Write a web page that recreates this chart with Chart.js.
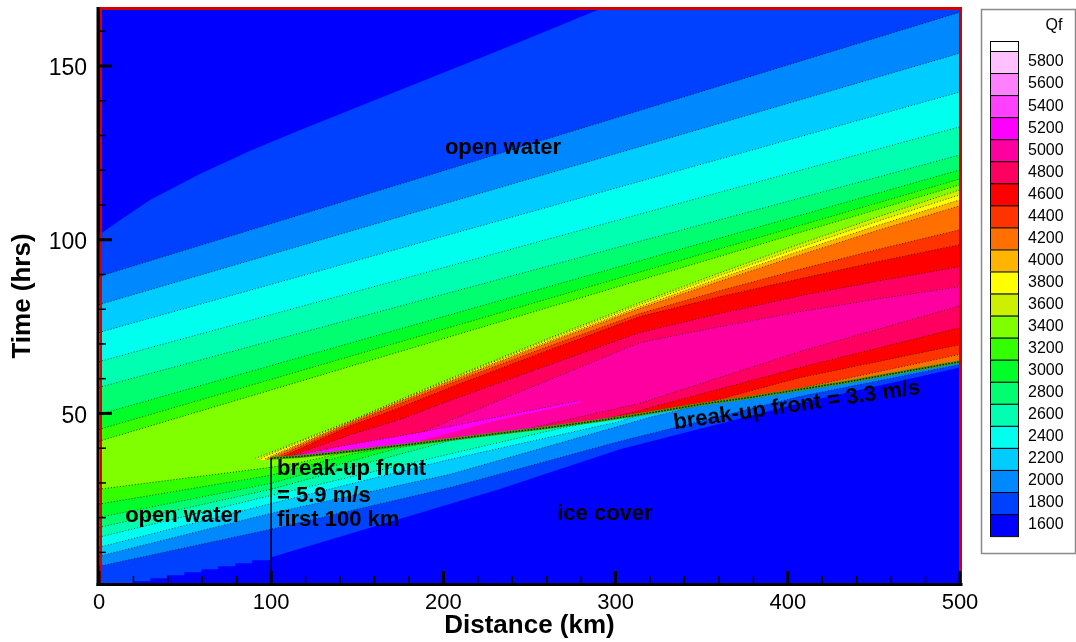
<!DOCTYPE html>
<html>
<head>
<meta charset="utf-8">
<title>Qf contour</title>
<script src="https://cdn.jsdelivr.net/npm/chart.js@4.4.1/dist/chart.umd.min.js"></script>
<style>
html,body{margin:0;padding:0;background:#ffffff;overflow:hidden;}
canvas{display:block;}
</style>
</head>
<body>
<canvas id="chart" width="1076" height="642"></canvas>
<script>
// ---------------- axes ----------------
const xRange = [0, 500];
const yRange = [1.2, 166.4];
const xTickValues = [0, 100, 200, 300, 400, 500];
const yTickValues = [50, 100, 150];
const xMinorTicks = [20,40,60,80,120,140,160,180,220,240,260,280,320,340,360,380,420,440,460,480];
const yMinorTicks = [10,20,30,40,60,70,80,90,110,120,130,140,160];

// ---------------- legend levels (Qf) ----------------
const legendLevels = [5800,5600,5400,5200,5000,4800,4600,4400,4200,4000,3800,3600,3400,3200,3000,2800,2600,2400,2200,2000,1800,1600];

// ---------------- contour lines: [distance km, time hrs] ----------------
// open water, upstream family (value of the band below each line)
const upper1800 = [[0,101.4],[12.4,105.7],[29.8,111.5],[58.8,119.0],[87.8,125.6],[116.8,131.6],[174.8,143.1],[232.9,154.6],[290.9,166.4],[320,172],[500,172]];
const upper2000 = [[0,89.4],[500,165.5]];
const upper2200 = [[0,81.3],[500,153.7]];
const upper2400 = [[0,73.3],[500,142.5]];
const upper2600 = [[0,64.9],[500,132.5]];
const upper2800 = [[0,57.5],[500,124.4]];
const upper3000 = [[0,49.7],[500,120.1]];
const upper3200 = [[0,45.4],[500,117.5]];
const upper3400 = [[0,42.0],[500,115.8]];
// ridge behind the break-up front
const ridge3600 = [[90.7,37.07],[95.9,38.07],[145.8,47.84],[174.8,54.02],[203.9,60.09],[261.9,71.81],[314.1,81.90],[360.6,90.52],[407,98.79],[453.4,106.75],[500,114.37]];
const ridge3800 = [[94.2,37.07],[97.7,37.93],[145.8,47.70],[174.8,53.79],[203.9,59.80],[261.9,71.38],[314.1,81.32],[360.6,89.73],[407,97.79],[453.4,105.53],[500,112.93]];
const ridge4000 = [[96.5,36.93],[99.4,37.64],[145.8,47.56],[174.8,53.59],[203.9,59.51],[261.9,70.95],[314.1,80.75],[360.6,88.94],[407,96.78],[453.4,104.31],[500,111.49]];
const ridge4200 = [[97.7,36.78],[101.1,37.64],[145.8,47.41],[174.8,53.39],[203.9,59.22],[261.9,70.52],[314.1,80.17],[360.6,88.07],[407,95.63],[453.4,102.87],[500,109.77]];
const ridge4400 = [[99.4,36.78],[103.5,37.5],[145.8,46.98],[174.8,52.87],[203.9,58.65],[261.9,69.51],[314.1,78.74],[360.6,85.34],[407,91.47],[453.4,97.34],[500,102.87]];
const ridge4600 = [[101.1,36.78],[105.8,37.36],[145.8,46.41],[174.8,51.72],[203.9,57.50],[261.9,68.36],[314.1,77.87],[360.6,83.62],[407,88.74],[453.4,93.82],[500,98.56]];
const ridge4800 = [[103.5,36.78],[108.7,37.36],[145.8,43.82],[174.8,48.28],[203.9,53.76],[261.9,64.05],[314.1,73.28],[360.6,78.74],[407,83.85],[453.4,88.22],[500,92.24]];
const ridge5000 = [[177.7,42.53],[203.9,47.99],[261.9,59.77],[314.1,70.40],[360.6,75.0],[407,79.31],[453.4,83.05],[500,86.49]];
const sliver5200 = [[108.1,37.36],[145.8,41.09],[186.4,44.54],[232.9,49.14],[279.3,53.74]];
const sliver5000 = [[186.4,42.24],[232.9,48.28],[279.3,53.16]];
// decreasing values towards the break-up front
const wedge4800 = [[244.5,45.1],[314.1,52.9],[406.9,67.8],[500,81.0]];
const wedge4600 = [[290.9,48.0],[314.1,50.9],[406.9,63.2],[500,74.7]];
const wedge4400 = [[348.9,52.6],[406.9,60.3],[500,69.8]];
const wedge4200 = [[401.1,56.6],[500,67.0]];
// break-up front (3.3 m/s)
const frontLine = [[100,37.1],[116.8,37.6],[145.8,39.1],[174.8,40.8],[203.9,42.5],[232.9,44.3],[261.9,46.0],[290.9,48.0],[314.1,49.7],[348.9,52.6],[377.9,54.6],[406.9,56.9],[435.9,59.2],[464.9,61.8],[500,64.9]];
// lower family (first 100 km, then below the front)
const lower3400 = [[90.7,37.1],[95.4,36.5],[100,36.8]];
const lower3200 = [[0,28.2],[100,34.5],[116.8,35.9]];
const lower3000 = [[0,23.9],[100,32.2],[145.8,38.2]];
const lower2800 = [[0,20.1],[100,29.9],[174.8,40.2]];
const lower2600 = [[0,17.2],[100,28.2],[203.9,42.2]];
const lower2400 = [[0,14.4],[100,26.4],[267.6,45.7]];
const lower2200 = [[0,11.5],[100,24.1],[203.9,36.8],[302.5,47.7]];
const lower2000 = [[0,8.9],[100,21.3],[203.9,32.5],[319.9,48.9],[343.1,51.7]];
const lower1800 = [[0,6.0],[100,16.7],[203.9,28.7],[302.5,42.0],[406.9,54.9],[500,64.1]];
const lower1600 = [[0,0.6],[19.9,0.6],[19.9,1.72],[29.8,1.72],[29.8,2.59],[39.6,2.59],[39.6,3.45],[49.5,3.45],[49.5,4.31],[59.4,4.31],[59.4,5.17],[69.2,5.17],[69.2,6.03],[79.1,6.03],[79.1,6.9],[89.0,6.9],[89.0,7.76],[100,7.76],[100,8.62],[232.3,28.2],[302.5,39.7],[406.9,52.9],[500,63.2]];
// vertical marker at 100 km
const markerDistance = 100;

// ---------------- styles ----------------
const levelColor = {
  1600:'#0000ff',1800:'#0040ff',2000:'#0088ff',2200:'#00ccff',2400:'#00ffee',2600:'#00ffb0',
  2800:'#00ff70',3000:'#00ff28',3200:'#33ff00',3400:'#80ff00',3600:'#ccf000',3800:'#ffff00',
  4000:'#ffb400',4200:'#ff7000',4400:'#ff3300',4600:'#ff0000',4800:'#ff0060',5000:'#ff00a0',
  5200:'#ff00ff',5400:'#ff40ff',5600:'#ff80ff',5800:'#ffc0ff'
};
const FONT = "'Liberation Sans', Arial, Helvetica, sans-serif";

function alongFront(head) {
  const lastX = head[head.length - 1][0];
  return head.concat(frontLine.filter(p => p[0] > lastX));
}

// painter's order: each layer fills the area below its line with its band colour
const layers = [
  {pts: [[xRange[0], yRange[1] + 10], [xRange[1], yRange[1] + 10]], band: 1600, dots: false},
  {pts: upper1800, band: 1800, dots: false},
  {pts: upper2000, band: 2000, dots: true},
  {pts: upper2200, band: 2200, dots: true},
  {pts: upper2400, band: 2400, dots: true},
  {pts: upper2600, band: 2600, dots: true},
  {pts: upper2800, band: 2800, dots: true},
  {pts: upper3000, band: 3000, dots: true},
  {pts: upper3200, band: 3200, dots: true},
  {pts: upper3400, band: 3400, dots: true},
  {pts: ridge3600, band: 3600, dots: true},
  {pts: ridge3800, band: 3800, dots: true},
  {pts: ridge4000, band: 4000, dots: true},
  {pts: ridge4200, band: 4200, dots: true},
  {pts: ridge4400, band: 4400, dots: true},
  {pts: ridge4600, band: 4600, dots: true},
  {pts: ridge4800, band: 4800, dots: true},
  {pts: ridge5000, band: 5000, dots: true},
  {pts: sliver5200, band: 5200, dots: true},
  {pts: sliver5000, band: 5000, dots: false},
  {pts: wedge4800, band: 4800, dots: true},
  {pts: wedge4600, band: 4600, dots: true},
  {pts: wedge4400, band: 4400, dots: true},
  {pts: wedge4200, band: 4200, dots: true},
  {pts: alongFront(lower3400), band: 3400, dots: false},
  {pts: alongFront(lower3200), band: 3200, dots: true},
  {pts: alongFront(lower3000), band: 3000, dots: true},
  {pts: alongFront(lower2800), band: 2800, dots: true},
  {pts: alongFront(lower2600), band: 2600, dots: true},
  {pts: alongFront(lower2400), band: 2400, dots: true},
  {pts: alongFront(lower2200), band: 2200, dots: true},
  {pts: alongFront(lower2000), band: 2000, dots: true},
  {pts: lower1800, band: 1800, dots: true},
  {pts: lower1600, band: 1600, dots: false}
];

const toXY = pts => pts.map(([x, y]) => ({x, y}));
const datasets = layers.map((L, i) => ({
  label: 'Qf ' + L.band,
  data: toXY(L.pts),
  fill: 'start',
  backgroundColor: levelColor[L.band],
  borderColor: L.dots ? 'rgba(0,0,0,0.7)' : 'rgba(0,0,0,0)',
  borderWidth: L.dots ? 1 : 0,
  borderDash: [1, 2],
  pointRadius: 0,
  order: 1000 - i
}));
datasets.push({
  label: 'break-up front', data: toXY(frontLine), fill: false,
  borderColor: '#4aa000', borderWidth: 3, pointRadius: 0, order: 3
});
datasets.push({
  label: 'break-up front dots', data: toXY(frontLine), fill: false,
  borderColor: 'rgba(0,0,0,0.85)', borderWidth: 1.5, borderDash: [1.5, 1.5], pointRadius: 0, order: 2
});
datasets.push({
  label: '100 km', data: toXY([[markerDistance, frontLine[0][1]], [markerDistance, yRange[0] - 5]]), fill: false,
  borderColor: '#000', borderWidth: 1, pointRadius: 0, order: 1
});

// ---------------- annotations (text) ----------------
const notes = [
  {text: 'open water', x: 234.6, y: 126.4, align: 'center'},
  {text: 'open water', x: 48.9, y: 20.4, align: 'center'},
  {text: 'break-up front', x: 103.4, y: 33.9, align: 'left'},
  {text: '= 5.9 m/s', x: 103.4, y: 26.4, align: 'left'},
  {text: 'first 100 km', x: 103.4, y: 19.3, align: 'left'},
  {text: 'ice cover', x: 293.8, y: 21.0, align: 'center'},
  {text: 'break-up front = 3.3 m/s', x: 405.2, y: 52.3, align: 'center', angle: -8.2}
];

const decorPlugin = {
  id: 'decor',
  afterDatasetsDraw(chart) {
    const {ctx, chartArea: a, scales: {x: xs, y: ys}} = chart;
    ctx.save();
    ctx.fillStyle = '#000';
    ctx.font = 'bold 22px ' + FONT;
    ctx.textBaseline = 'middle';
    notes.forEach(n => {
      const px = xs.getPixelForValue(n.x), py = ys.getPixelForValue(n.y);
      ctx.save();
      ctx.translate(px, py);
      if (n.angle) ctx.rotate(n.angle * Math.PI / 180);
      ctx.textAlign = n.align;
      ctx.fillText(n.text, 0, 0);
      ctx.restore();
    });
    // frame
    ctx.fillStyle = '#d40000';
    ctx.fillRect(a.left, a.top - 2, a.right - a.left + 2, 3);
    ctx.fillRect(a.right - 1, a.top - 2, 3, a.bottom - a.top + 2);
    ctx.fillRect(a.left + 1, a.top, 2, a.bottom - a.top);
    ctx.fillStyle = '#000';
    ctx.fillRect(a.left - 2.5, a.top - 2, 3, a.bottom - a.top + 5);
    ctx.fillRect(a.left - 2.5, a.bottom, a.right - a.left + 5, 3);
    // ticks (inward)
    ctx.strokeStyle = '#000';
    ctx.lineWidth = 3;
    yTickValues.forEach(v => { const p = ys.getPixelForValue(v); ctx.beginPath(); ctx.moveTo(a.left, p); ctx.lineTo(a.left + 13, p); ctx.stroke(); });
    xTickValues.forEach(v => { const p = xs.getPixelForValue(v); ctx.beginPath(); ctx.moveTo(p, a.bottom); ctx.lineTo(p, a.bottom - 12); ctx.stroke(); });
    ctx.lineWidth = 1.5;
    yMinorTicks.forEach(v => { const p = ys.getPixelForValue(v); ctx.beginPath(); ctx.moveTo(a.left, p); ctx.lineTo(a.left + 7, p); ctx.stroke(); });
    xMinorTicks.forEach(v => { const p = xs.getPixelForValue(v); ctx.beginPath(); ctx.moveTo(p, a.bottom); ctx.lineTo(p, a.bottom - 7); ctx.stroke(); });
    ctx.restore();
  },
  afterDraw(chart) {
    const ctx = chart.ctx;
    const box = {x: 981, y: 9, w: 94, h: 544};
    const patchX = 990, patchW = 28, whiteTop = 41, whiteH = 10, step = 22.05, labelX = 1028;
    ctx.save();
    ctx.strokeStyle = '#8a8a8a';
    ctx.lineWidth = 1.5;
    ctx.strokeRect(box.x + 0.5, box.y + 0.5, box.w, box.h);
    ctx.fillStyle = '#000';
    ctx.font = '16px ' + FONT;
    ctx.textAlign = 'center';
    ctx.textBaseline = 'middle';
    ctx.fillText('Qf', 1054, 26);
    ctx.fillStyle = '#ffffff';
    ctx.fillRect(patchX, whiteTop, patchW, whiteH);
    ctx.strokeStyle = '#000';
    ctx.lineWidth = 1;
    ctx.strokeRect(patchX + 0.5, whiteTop + 0.5, patchW, whiteH);
    ctx.textAlign = 'left';
    legendLevels.forEach((lv, i) => {
      const y0 = whiteTop + whiteH + i * step;
      ctx.fillStyle = levelColor[lv];
      ctx.fillRect(patchX, y0, patchW, step);
      ctx.strokeRect(patchX + 0.5, y0 + 0.5, patchW, step);
      ctx.fillStyle = '#000';
      ctx.fillText(String(lv), labelX, y0 + step / 2);
    });
    ctx.restore();
  }
};

Chart.defaults.font.family = FONT;
new Chart(document.getElementById('chart'), {
  type: 'line',
  data: {datasets},
  options: {
    responsive: false,
    animation: false,
    devicePixelRatio: 1,
    layout: {padding: {left: 0, right: 116, top: 9, bottom: 0}},
    plugins: {legend: {display: false}, tooltip: {enabled: false}},
    elements: {point: {radius: 0}, line: {tension: 0}},
    scales: {
      x: {
        type: 'linear', min: xRange[0], max: xRange[1],
        grid: {display: false, drawTicks: false}, border: {display: false},
        afterBuildTicks: s => { s.ticks = xTickValues.map(v => ({value: v})); },
        afterFit: s => { s.height = 59; s.paddingLeft = 0; s.paddingRight = 0; },
        ticks: {padding: 7, color: '#000', font: {size: 22}, maxRotation: 0, autoSkip: false},
        title: {display: true, text: 'Distance (km)', color: '#000', font: {size: 26, weight: 'bold'}, padding: {top: 0, bottom: 1}}
      },
      y: {
        type: 'linear', min: yRange[0], max: yRange[1],
        grid: {display: false, drawTicks: false}, border: {display: false},
        afterBuildTicks: s => { s.ticks = yTickValues.map(v => ({value: v})); },
        afterFit: s => { s.width = 99; s.paddingTop = 0; s.paddingBottom = 0; },
        ticks: {padding: 12, labelOffset: 3, color: '#000', font: {size: 23}, autoSkip: false},
        title: {display: true, text: 'Time (hrs)', color: '#000', font: {size: 26, weight: 'bold'}, padding: {top: 7, bottom: 0}}
      }
    }
  },
  plugins: [decorPlugin]
});
</script>
</body>
</html>
